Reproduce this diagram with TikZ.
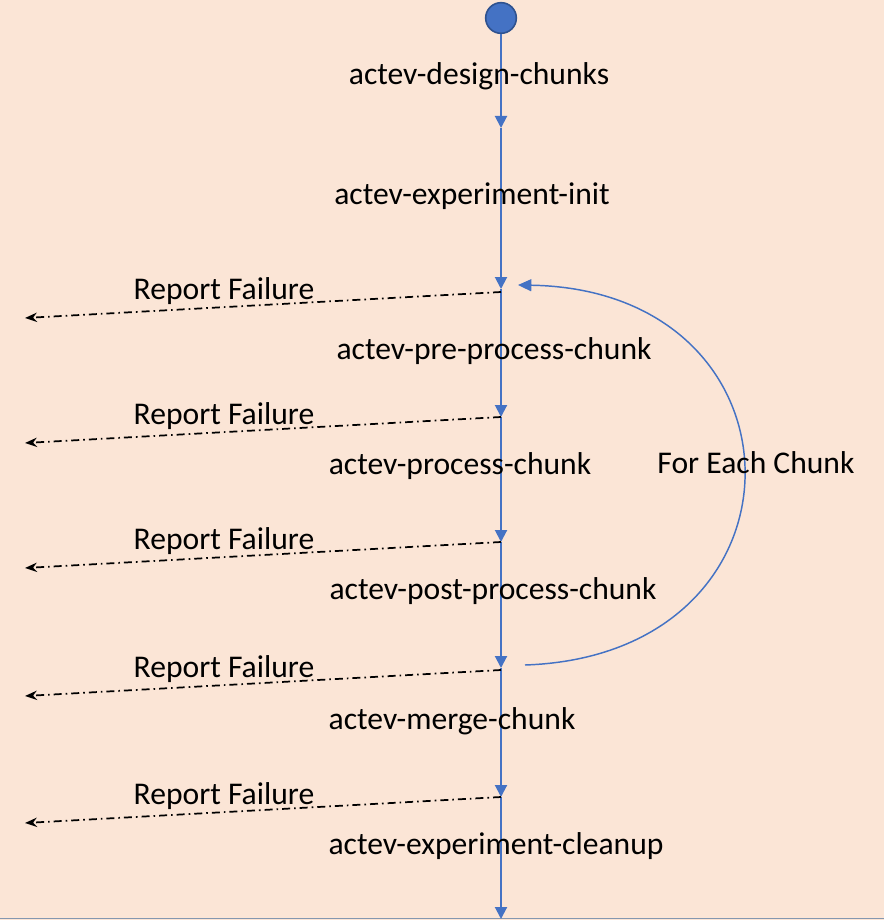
\documentclass[tikz,border=0pt]{standalone}
\usepackage{fontspec}
\setmainfont{Carlito}
\usetikzlibrary{arrows.meta}
\definecolor{peach}{HTML}{FBE5D6}
\definecolor{flowblue}{HTML}{4472C4}
\definecolor{flowedge}{HTML}{2F528F}
\definecolor{bottomgray}{HTML}{8497B0}
\tikzset{
  flow/.style={flowblue, line width=1.5pt, -{Triangle[width=9pt,length=9pt]}},
  fail/.style={black, line width=1.3pt, dash pattern=on 6pt off 3pt on 1.2pt off 3pt,
    -{Stealth[width=7pt,length=9pt]}},
  steplabel/.style={font=\fontsize{23.7}{28}\selectfont, inner sep=0pt},
}
\begin{document}
\begin{tikzpicture}[x=0.75pt,y=-0.75pt]
  \fill[peach] (0,0) rectangle (884,920);
  \useasboundingbox (0,0) rectangle (884,920);
  \draw[bottomgray, line width=1pt] (0,918.5) -- (884,918.5);
  % start dot and the stops along the main line
  \node[circle, fill=flowblue, draw=flowedge, line width=1.2pt, minimum size=23pt, inner sep=0pt] (start) at (501,18) {};
  \coordinate (s1) at (501,128);
  \coordinate (s2) at (501,289);
  \coordinate (s3) at (501,417);
  \coordinate (s4) at (501,542);
  \coordinate (s5) at (501,668);
  \coordinate (s6) at (501,797);
  \coordinate (s7) at (501,919);
  \draw[flow] (start) -- (s1);
  \draw[flow] (s1) -- (s2);
  \draw[flow] (s2) -- (s3);
  \draw[flow] (s3) -- (s4);
  \draw[flow] (s4) -- (s5);
  \draw[flow] (s5) -- (s6);
  \draw[flow] (s6) -- (s7);
  % step names
  \node[steplabel] (design) at (479,76) {actev-design-chunks};
  \node[steplabel] (init) at (472,196) {actev-experiment-init};
  \node[steplabel] (pre) at (494,351) {actev-pre-process-chunk};
  \node[steplabel] (proc) at (460,466) {actev-process-chunk};
  \node[steplabel] (post) at (493,591) {actev-post-process-chunk};
  \node[steplabel] (merge) at (452,721) {actev-merge-chunk};
  \node[steplabel] (cleanup) at (496,846) {actev-experiment-cleanup};
  % failure exits
  \foreach \s/\y in {s2/292, s3/417, s4/542, s5/670, s6/797} {
    \coordinate (f\s) at (501,\y);
    \coordinate (e\s) at (25,\y+26);
    \draw[fail] (f\s) -- (e\s);
    \node[steplabel] (r\s) at (224,\y-1) {Report Failure};
  }
  % loop back
  \coordinate (loopin) at (518,285);
  \coordinate (loopout) at (525,665);
  \draw[flowblue, line width=1.1pt, -{Triangle[width=9pt,length=10pt]}]
    (loopout) .. controls (820,655) and (815,290) .. (loopin);
  \node[steplabel] (each) at (756,463) {For Each Chunk};
\end{tikzpicture}
\end{document}
